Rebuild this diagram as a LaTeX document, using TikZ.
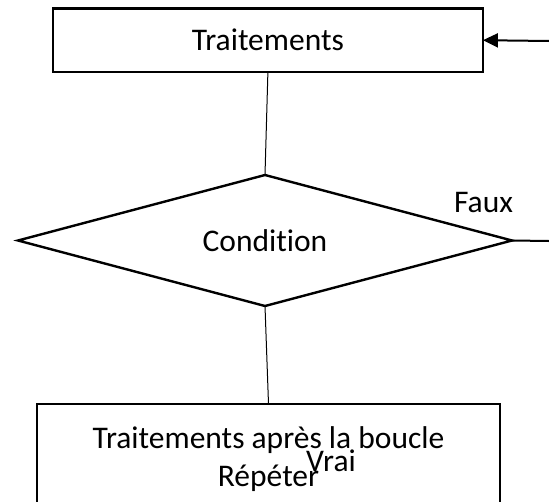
\documentclass[tikz,border=0pt]{standalone}
\usepackage{fontspec}
\setmainfont{Carlito}[Ligatures=NoCommon]
\usetikzlibrary{shapes.geometric,arrows.meta}
\begin{document}
\begin{tikzpicture}[x=1pt,y=-1pt,
  every node/.style={font=\fontsize{31.5}{38}\selectfont},
  box/.style={draw,line width=2.4pt,inner sep=0pt,outer sep=0pt},
  cond/.style={diamond,draw,line width=2.4pt,inner sep=0pt,outer sep=0pt,
    shape aspect=3.77,minimum width=494pt,minimum height=131pt},
  link/.style={line width=1pt}]
\useasboundingbox (0,0) rectangle (549,501);
\node[box,minimum width=430pt,minimum height=63.5pt] (trait) at (267.9,40.2) {Traitements};
\node[cond] (test) at (265,240.5) {Condition};
\node[box,minimum width=463pt,minimum height=110pt,align=center,anchor=north] (apres) at (268.5,404)
  {Traitements après la boucle\\Répéter};
\coordinate (entree) at (549,41);
\coordinate (sortie) at (549,241);
\draw[line width=2pt,-{Triangle[length=15pt,width=14pt]}] (entree) -- (trait.east);
\draw[link] (trait.south) -- (test.north);
\draw[line width=2pt] (test.east) -- (sortie);
\draw[link] (test.south) -- (apres.north);
\node (faux) at (483.5,203) {Faux};
\node (vrai) at (331,461) {Vrai};
\end{tikzpicture}
\end{document}
